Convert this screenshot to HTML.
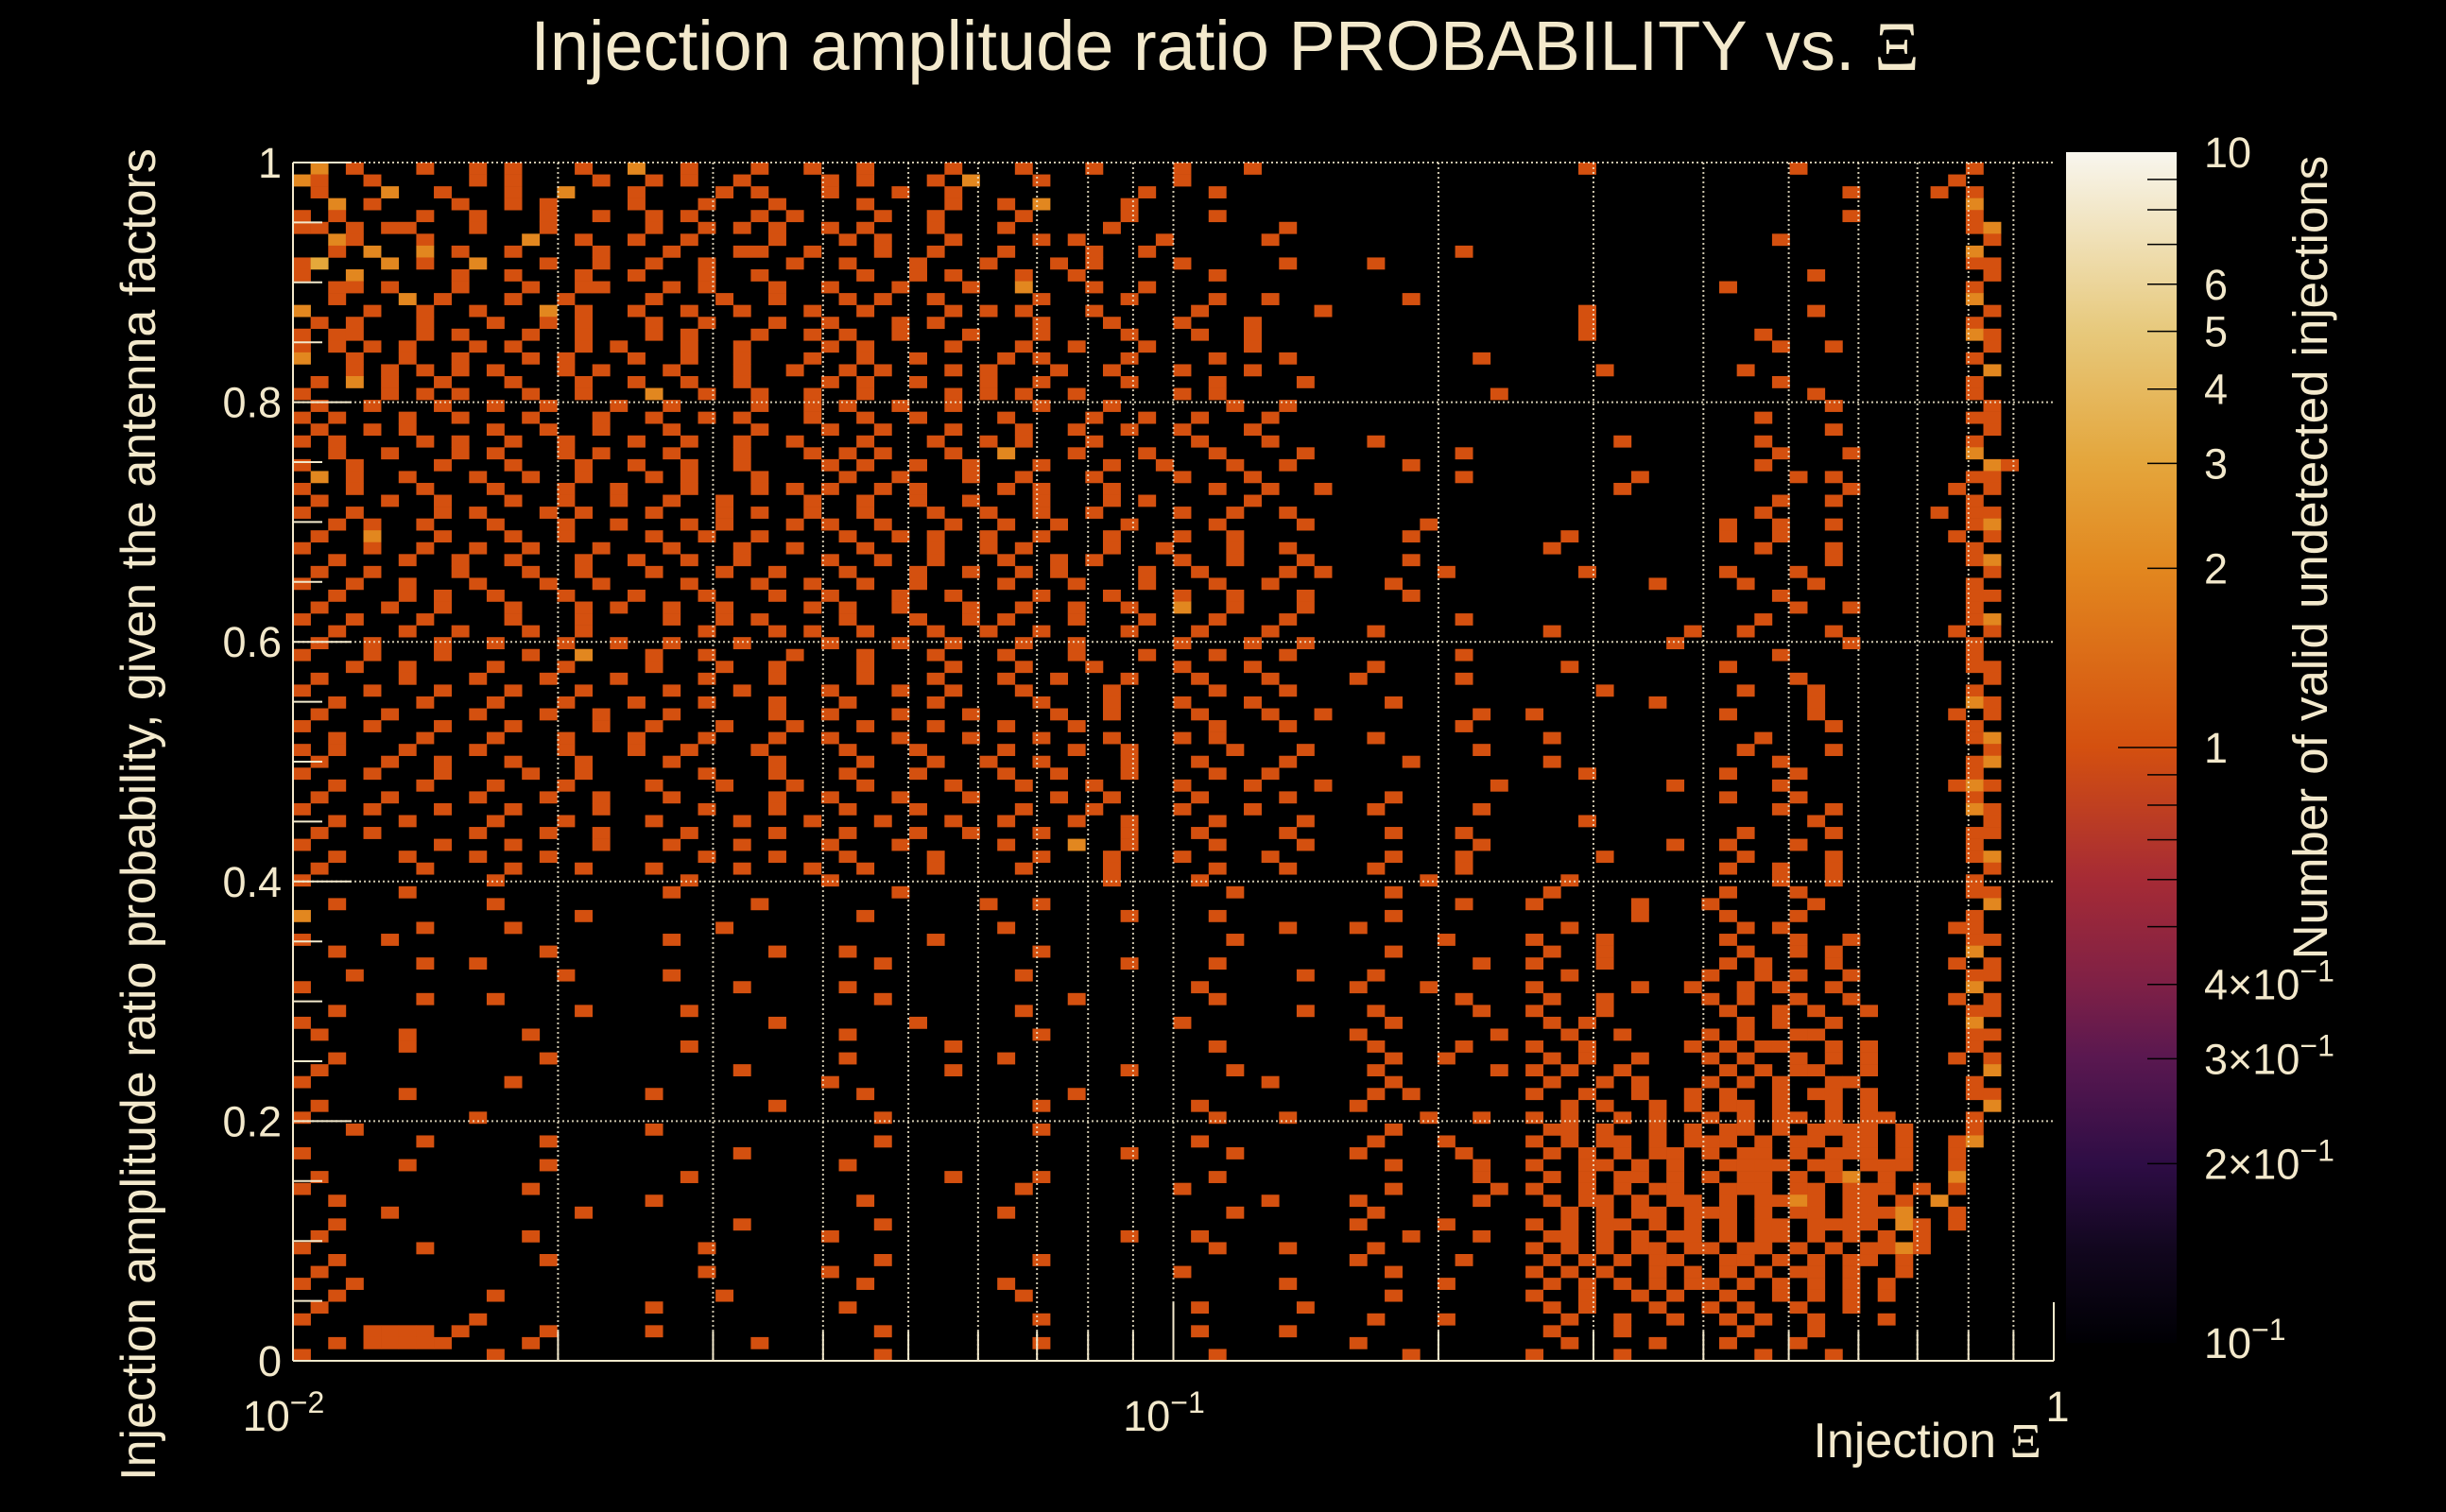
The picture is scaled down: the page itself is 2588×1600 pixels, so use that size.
<!DOCTYPE html>
<html><head><meta charset="utf-8"><style>
html,body{margin:0;padding:0;background:#000;}
svg{display:block;}
text{font-family:"Liberation Sans",sans-serif;fill:#f3e9cc;}
</style></head><body>
<svg id="chart" width="2588" height="1600" viewBox="0 0 2588 1600" xmlns="http://www.w3.org/2000/svg">
<defs>
<linearGradient id="cmap" x1="0" y1="1" x2="0" y2="0">
<stop offset="0" stop-color="#000004"/>
<stop offset="0.08" stop-color="#12071f"/>
<stop offset="0.15" stop-color="#2e0d45"/>
<stop offset="0.24" stop-color="#5a1850"/>
<stop offset="0.30" stop-color="#7e2046"/>
<stop offset="0.39" stop-color="#a62b35"/>
<stop offset="0.50" stop-color="#d4500f"/>
<stop offset="0.65" stop-color="#e2871f"/>
<stop offset="0.74" stop-color="#e4a63c"/>
<stop offset="0.85" stop-color="#e7c97c"/>
<stop offset="1" stop-color="#f8f6ee"/>
</linearGradient>
</defs>
<rect x="0" y="0" width="2588" height="1600" fill="#000"/>
<g id="cells"></g>
<g id="grid"></g>
<g id="axes"></g>
<text x="1296" y="74" font-size="74" text-anchor="middle">Injection amplitude ratio PROBABILITY vs.  <tspan font-family="Liberation Serif, serif">Ξ</tspan></text>
<text x="2160" y="1542" font-size="52" text-anchor="end">Injection <tspan font-family="Liberation Serif, serif">Ξ</tspan></text>
<text transform="translate(164,862) rotate(-90)" font-size="52" text-anchor="middle">Injection amplitude ratio probability, given the antenna factors</text>
<rect x="2186" y="161" width="117" height="1260" fill="url(#cmap)"/>
<g id="cbar"></g>
<text transform="translate(2462,590) rotate(-90)" font-size="51" text-anchor="middle">Number of valid undetected injections</text>
</svg>
<script>
const gridRows = [
".2.1...1.. 1.1...1..2 ..1...1..1 ..1....1.. .1...1.... 1...1..... .......... ...1...... .....1.... .....1....",
"21..1..... 1.1....1.. 1.1..1.... 1.1...1.2. ..1....... 1......... .......... .......... .......... ....1.....",
".1...2..1. ..1..2...1 ....1.1... 1...1..1.. ........1. ..1....... .......... .......... ........1. ...1.1....",
"..2.1....1 ..1.1....1 ...1...1.. ..1....1.. 1.2....1.. .......... .......... .......... .......... .....2....",
"1.1....1.. 1...1..1.. 1.1...1.1. ...1..1... .1.....1.. ..1....... .......... .......... ........1. .....1....",
"11.1.11... 1...1..... 1..1.1.1.. 1.1...1... 1.....1... ......1... .......... .......... .......... .....12...",
"..21...1.. ...2..1..1 ..1....1.. .1.1...1.. ..1.1....1 .....1.... .......... .......... ....1..... ......1...",
"..1.2..2.1 ..1....1.. .1...11..1 ...1..1... 1....1..1. .......... ......1... .......... .......... .....2....",
"13...2.1.. 2...1..1.. 1..1....1. .1...1...1 ...1.1.... 1.....1... .1........ .......... .......... .....11...",
"1..2.....1 ..1...1..1 ...1..1... ..1..1.1.. .1..1..... ..1....... .......... .......... ......1... ......1...",
"..11.1...1 ...1..11.. .1.1...1.. 1...1...1. .2...1..1. .......... .......... .......... .1........ .....1....",
"..1...2.1. ..1..1.... 1...1..1.. .1.1..1... ..1....1.. ..1..1.... ...1...... .......... .......... .....2....",
"2...1..1.. 1...2.1..1 ..1..1...1 ..1....1.1 .1...1.... .1......1. .......... ...1...... ......1... ......1...",
".1.1...1.. .1..1.1... 1..1...1.. 1...1.1... ..1...1... 1...1..... .......... ...1...... .......... .....1....",
"1.11...1.1 ...1..1... 1.1...1..1 .1..1...1. ..1....1.. .1..1..... .......... ...1...... ...1...... .....21...",
"1.1.1.1... 1.1...1.1. ..1..1.... 1.1....1.. .1..1...1. ....1..... .......... .......... ....1..1.. ......1...",
"2..1..1..1 ...1.1...1 ..1..1...1 ..1..1.... 1.1....1.. ..1...1... .......1.. .......... .......... .....1....",
"...1.1.1.1 .1...1.1.. .1...1..1. .1.1...1.1 ...1..1... 1...1..... .......... ....1..... ..1....... ......2...",
".1.2.1..1. ..1...1..1 ..1..1.... 1.1..1...1 ..1....1.. ..1....1.. .......... .......... ....1..... .....1....",
"1....1.1.1 ...1..1... 2..1..1..1 ..1....1.1 .1..1..... 1.1....... ........1. .......... ......1... .....1....",
".1..1...1. .1..1...1. .1....1..1 .1..1..1.. ..1...1... ...1..1... .......... .......... .......1.. ......1...",
"1.1...1..1 ...1...1.. 1..1.1...1 ..1..1.... 1....1..1. .1...1.... .......... .......... ...1...... .....11...",
".1..1.1... .1..1..1.. .1....1... 1..1...1.. .1..1..1.. 1...1..... .......... .......... .......1.. ......1...",
"1.1....1.1 ..1..1...1 ..1..1..1. ..1...1..1 .1...1.... .1...1.... .1........ .....1.... ...1...... .....1....",
"..1..1...1 .1...1.1.. .1...1...1 .1.1...1.. 2...1...1. ..1....1.. ......1... .......... ....1...1. .....2....",
"1..1....1. ..1...1..1 ..1..1.... 1.1..1..1. ..1...1..1 ...1..1... ...1...... .......... ...1...... ......21...",
".2.1..1... 1..1..1... 1.1...1... .1..1...1. .1...1.... 1...1..... ......1... ......1... .....1.1.. .....11...",
"1..1...1.. .1...1..1. ..1...1.1. 1..1.1.... 1.1...1... ..1..1..1. .......... .....1.... ........1. ....1.1...",
".1...1..1. ..1..1..1. .1..1....1 ..1..1..1. ..1...1.1. ....1..... .......... .......... ....1..1.. .....1....",
"1..1....1. 1...1.1... 1...1.1..1 ..1...1..1 ..1..1.... 1..1..1... .......... .......... ...1...... ...1.11...",
"..1.1..1.. .1...1..1. ..1.1...1. 1..1...1.. 1..1...1.. ..1....1.. ....1..... .......... .1..1..1.. .....12...",
".1..2...1. ..1..1.... 1..1..1... .1..1.1..1 ..1...1... 1..1...... ...1...... ..1....... .1..1..... ....1.1...",
"1...1..1.. 1..1...1.. .1...1..1. ..1...1..1 .1....1..1 ...1..1... .......... .1........ ...1...1.. .....1....",
"..1...1..1 ..1...1..1 ..1..1.... 1..1..1... 1..1.1.... 1..1...1.. ...1...... .......... .......1.. .....12...",
".1..1....1 ...1..1... 1...1..1.. .1...1..1. .1.1....1. .1....1.1. .....1.... ...1...... .1...1.... ......1...",
"1..1..1... 1...1..1.. ..1...1..1 ..1..1.... 1...1...1. ..1..1.... ..1....... .......1.. ..1...1... .....1....",
"..1...1.1. .1...1...1 ...1...1.. 1...1..1.. ..1...1... 1..1...1.. ...1...... .......... ....1..... .....11...",
".1...1..1. ..1...1.1. .1..1....1 .1..1...1. .1..1..1.. 2..1...1.. .......... .......... .....1..1. .....1....",
"1..1...1.. ..1...1... .1..1.1... .1...1..1. 1...1...1. ..1...1... ......1... .......... ...1...... .....12...",
"..1...1..1 ...1..1... ...1...1.1 ..1...1..1 ..1....1.. .1...1.... .1........ .1.......1 ..1....1.. ....1.1...",
".1..1...1. .1...1..1. .1...1.... 1...1..1.. .1..1..... 1...1..1.. .......... ........1. ........1. .....1....",
"1...1...1. ...1..2... 1..1....1. ..1...1... 1...1...1. ..1...1... ......1... .......... ....1..... .....1....",
"...1..1... .1...1.... 1...1..1.. ..1....1.. .1...1.... 1...1..... .1........ ..1....... .1........ .....11...",
".1....1... 1...1...1. ...1...1.. ..1...1... 1..1...1.. .1...1.... 1.....1... .......... .....1.... ......1...",
"1...1...1. ..1...1... .1...1.... 1...1..1.. .1....1... ..1...1... .......... ....1..... ..1...1... .....1....",
"..1....1.. .1...1...1 ...1...1.. .1....1... ..1...1... 1...1..... ..1....... .......1.. ......1... .....21...",
".1...1.... 1...1..1.. .1.....1.. 1...1...1. ...1..1... .1...1..1. .......1.. 1......... .1....1... ....1.1...",
"1...1...1. ..1....1.. 1...1...1. ..1...1... 1...1..... ..1...1... ......1... .......... .......1.. .....1....",
"..1....1.. .1...1...1 ...1...1.. 1...1...1. ..1...1... 1.1....... .1........ .1........ ...1...... .....12...",
"1.1...1... 1....1...1 ..1...1... .1...1.... 1...1..1.. ...1...1.. .......1.. .......... ..1....1.. ......1...",
".1...1..1. ..1...1... .1.....1.. ..1...1..1 ..1....1.. .1....1... ...1...... .1........ ....1..... .....12...",
"1...1...1. ...1..1... ...1...1.. .1...1.... 1..1...1.. ..1..1.... .......... ...1...... .1...1.... .....1....",
"..1....1.. .1...1.... 1...1...1. ..1....1.. .1...1.... 1...1...1. ........1. ........1. ....1..... ....121...",
".1...1.... 1...1..1.. .1.....1.. 1...1...1. ...1..1... .1....1... ..1....... .......... .1...1.... .....1....",
"1...1...1. ..1....1.. ...1...1.. .1...1.... .1...1.... 1...1..... .1.....1.. .......... ....1..1.. .....21...",
"..1...1... .1...1.... 1....1...1 ...1...1.. 1...1..1.. ..1....1.. .......... ...1...... ......1... ......1...",
".1..1..... 1...1..1.. ..1....1.. .1...1..1. ..1....1.. .1....1... ..1...1... .......... ..1....1.. .....11...",
"1.......1. ..1....1.. .1...1.... 1...1..... 1...2..1.. ..1....1.. .......1.. ........1. .1...1.... .....1....",
"..1...1... 1...1..... ...1...1.. .1....1... ..1...1... 1....1.... ..1...1... ....1..... ..1....1.. .....12...",
".1.....1.. ..1...1... 1....1...1 ..1...1... .1....1... ..1...1... .1....1... .......... .1..1..1.. ......1...",
"1......... .1........ ..1....... 1......... ......1... .1........ ....1..... ..1....... ....1..1.. .....1....",
"......1... .......... .1........ ....1..... .......... ...1...... ..1....... .1........ .1...1.... .....11...",
"..1....... .1........ ......1... .........1 ..1....... .......... ......1... 1.....1... 1.....1... ......2...",
"2......... ......1... .......... ..1....... .......1.. ..1....... ..1....... ......1... .1...1.... .....1....",
".......1.. ..1....... ....1..... .......... 1......... ......1... 1......... ..1....... ..1.1..... ....11....",
"1....1.... .......... .1........ ......1... .......... ...1...... .....1.... 1...1..... .1...1..1. .....11...",
"..1....... ....1..... .......1.. .1........ ..1....... .......... ..1....... .1..1..... ..1..1.1.. .....2....",
".......1.. 1......... .......... ...1...... .......1.. ..1....... .......1.. 1...1..... .1.1...1.. ....1.1...",
"...1...... .....1.... .1........ .......... .1........ .......1.. .1........ ..1....... 1..1.1..1. .....11...",
"1......... .......... .....1.... .1........ .......... .1........ 1...1..... 1.....1..1 ..1.1..1.. .....2....",
".......1.. .1........ .......... ...1...... ....1..... ..1....... ......1... .1..1..... 1.1..1..1. ....1.1...",
"..1....... ......1... ..1....... .......... .1........ .......1.. .1.....1.. 1...1..... .1..1.1..1 .....11...",
"1......... .......... .......1.. .....1.... .......... 1......... ..1....... .1.1...... ..1.1..1.. .....2....",
".1....1... ...1...... .......... .1........ ..1....... .......... 1.......1. ..1..1.... 1.1..11... .....11...",
"......1... .......... ..1....... .......1.. .......... ..1....... .1....1... 1..1.....1 .1.11..1.1 .....1....",
"..1....... ....1..... .......... .1........ 1......... .......... ..1..1.... .1.1..1... 1.1..1.1.1 ....1.1...",
".1........ .......... .....1.... .......1.. .......1.. ...1...... .1......1. 1.1..1.... .1.1.11..1 ......2...",
"1......... ..1....... .......... 1......... .......... .....1.... ..1....... .1..1.1... 1.1.1..11. .....1....",
"......1... .......... 1......... ..1....... ....1..... .......... .1.1...... 1..1..1..1 .1..1.11.1 .....11...",
".1........ .......... .......1.. .......... ..1....... .1........ 1......... ..1.1..1.1 .11.1..1.1 ......2...",
"1......... 1......... .......... ...1...... .......... ..1...1... ....1..1.. 1.1..1.1.. 1.1.11.1.1 1....1....",
"...1...... .......... 1......... .......... ..1....... .......... ..1....... .11.1..1.1 .11.1.1111 .1...1....",
".......1.. ....1..... .......... ...1...... .......... .1........ .1...1.... 1.1.11.1.1 11.1.11.11 .1..12....",
"1......... .......... .....1.... .......... .......1.. ...1...... 1.....1... .1.1.1.11. 1.11.1.111 .1..1.....",
"......1... ....1..... .......... .1........ .......... .......... ..1....1.. 1..11.1.1. .1111.11.1 11..1.....",
".1........ .......... ..1....... .......1.. ..1....... ..1....... .......1.. .1.1.11.1. 1.11.1.12. 1...2.....",
"1......... ...1...... .......... .......... .1........ 1......... ..1.....1. 1..1.1.11. .111.11.11 1.1.1.....",
"..1....... .......... 1......... ..1....... .......... .....1.... 1......1.. .1.11.1.11 .1.1121.11 .1.2......",
".....1.... ......1... .......... .......... 1......... ...1...... .1........ ..1.1.11.1 11.1.11.11 12..1.....",
"..1....... .......... .....1.... ...1...... .......... .......... 1....1.... 1.1.11.1.1 .1.11.1111 .21.1.....",
".1........ ...1...... .......... 1......... .......1.. .1........ ...1...1.. .11.1.1.11 .1.11.1.1. 1.1.......",
"1......1.. .......... ...1...... .......... .......... ..1...1... .1........ 1.1.1.11.1 1.11.1.1.1 121.......",
"..1....... ....1..... .......... ...1...... ..1....... .......... 1.....1... .1.1.1.11. .11.1.1.11 .1........",
".1........ .......... ...1...... 1......... .......... 1......... ..1....... 1.1.1..1.1 .1.1.11.1. .1........",
"1..1...... .......... .......... ..1....... 1......... ......1... .....1.... .1.1.1.1.1 1.1.1.1.1. 1.........",
"..1....... .1........ ....1..... .......... .1........ .......... ..1....... 1..1..1.1. .1..1.1.1. 1.........",
".1........ .......... 1......... .1........ .......... .1.....1.. .......... .1.1...1.. 1.1..1..1. ..........",
"1......... 1......... .......... .......... ..1....... .......... .1...1.... ..1..1..1. .1.1..1... 1.........",
"....1111.1 ....1..... 1......... ...1...... .......... .1....1... .......... .1...1.... ..1...1... ..........",
"..1.11111. ...1...... ......1... .......... ..1....... .......... 1......... ..1....1.. .1...1.... ..........",
"1......... .1........ .......... ...1...... .......... ..1....... ...1...... 1....1.... ...1...1.. ..........",
];
const xMin = -2, xMax = 0; // log10 range of Ξ
const yMin = 0, yMax = 1;
const xTickValues = [0.01, 0.1, 1];
const xTickLabels = ["10", "10", "1"];
const xTickExps = ["−2", "−1", ""];
const yTickValues = [0, 0.2, 0.4, 0.6, 0.8, 1];
const yTickLabels = ["0", "0.2", "0.4", "0.6", "0.8", "1"];
const cbarTickValues = [0.1, 0.2, 0.3, 0.4, 1, 2, 3, 4, 5, 6, 10];
const cbarTickLabels = ["10", "2×10", "3×10", "4×10", "1", "2", "3", "4", "5", "6", "10"];
const cbarTickExps = ["−1", "−1", "−1", "−1", "", "", "", "", "", "", ""];

const NS = "http://www.w3.org/2000/svg";
const PL = 310, PR = 2173, PT = 172, PB = 1440;
const CB = {x: 2186, w: 117, top: 161, bot: 1421};
function xScale(v){ return PL + (Math.log10(v) - xMin) / (xMax - xMin) * (PR - PL); }
function yScale(v){ return PB - (v - yMin) / (yMax - yMin) * (PB - PT); }
function cScale(v){ return CB.bot - (Math.log10(v) + 1) / 2 * (CB.bot - CB.top); }
function color(n){ return n >= 4 ? "#e8c06a" : n === 3 ? "#e5a83a" : n === 2 ? "#e2871f" : "#d4500f"; }
function mk(tag, attrs, parent){ const e = document.createElementNS(NS, tag); for (const k in attrs) e.setAttribute(k, attrs[k]); parent.appendChild(e); return e; }

const cells = document.getElementById("cells");
const nRows = gridRows.length, nCols = 100;
for (let r = 0; r < nRows; r++) {
  const row = gridRows[r].replace(/ /g, "");
  for (let c = 0; c < nCols; c++) {
    const ch = row[c] || ".";
    if (ch === ".") continue;
    const n = parseInt(ch, 10);
    const x0 = xScale(Math.pow(10, xMin + c * (xMax - xMin) / nCols));
    const x1 = xScale(Math.pow(10, xMin + (c + 1) * (xMax - xMin) / nCols));
    const y0 = yScale(yMax - r * (yMax - yMin) / nRows);
    const y1 = yScale(yMax - (r + 1) * (yMax - yMin) / nRows);
    const rc = mk("rect", {x: x0, y: y0, width: x1 - x0 + 0.3, height: y1 - y0 + 0.3, fill: color(n)}, cells);
    
    
  }
}

const grid = document.getElementById("grid");
for (let d = -2; d < 0; d++) {
  for (let m = 1; m <= 9; m++) {
    const v = m * Math.pow(10, d);
    if (v <= 0.01) continue;
    const x = xScale(v);
    const gl = mk("line", {x1: x, x2: x, y1: PT, y2: PB, stroke: "#f3e9cc", "stroke-width": 2, "stroke-dasharray": "2 3", opacity: 0.85}, grid);
    
    
  }
}
yTickValues.forEach(v => {
  if (v === 0) return;
  const y = yScale(v);
  const gl = mk("line", {x1: PL, x2: PR, y1: y, y2: y, stroke: "#f3e9cc", "stroke-width": 2, "stroke-dasharray": "2 3", opacity: 0.85}, grid);
  
  
});

const axes = document.getElementById("axes");
mk("line", {x1: PL, x2: PL, y1: PT, y2: PB, stroke: "#f3e9cc", "stroke-width": 2}, axes);
mk("line", {x1: PL, x2: PR, y1: PB, y2: PB, stroke: "#f3e9cc", "stroke-width": 2}, axes);
for (let i = 0; i <= 20; i++) {
  const v = i * 0.05, y = yScale(v);
  const len = (i % 4 === 0) ? 62 : 31;
  mk("line", {x1: PL, x2: PL + len, y1: y, y2: y, stroke: "#f3e9cc", "stroke-width": 2}, axes);
}
yTickValues.forEach((v, i) => {
  const t = mk("text", {x: PL - 12, y: yScale(v) + 16, "font-size": 45, "text-anchor": "end"}, axes);
  t.textContent = yTickLabels[i];
  
  
});
for (let d = -2; d < 0; d++) for (let m = 1; m <= 9; m++) {
  const x = xScale(m * Math.pow(10, d));
  mk("line", {x1: x, x2: x, y1: PB, y2: PB - (m === 1 ? 62 : 31), stroke: "#f3e9cc", "stroke-width": 2}, axes);
}
mk("line", {x1: PR, x2: PR, y1: PB, y2: PB - 62, stroke: "#f3e9cc", "stroke-width": 2}, axes);
xTickValues.forEach((v, i) => {
  const x = xScale(v);
  const t = mk("text", {x: x - (xTickExps[i] ? 10 : -4), y: xTickExps[i] ? 1514 : 1504, "font-size": 45, "text-anchor": "middle"}, axes);
  t.textContent = xTickLabels[i];
  if (xTickExps[i]) { const s = mk("tspan", {dy: -19, "font-size": 32}, t); s.textContent = xTickExps[i]; }
  
  
});

const cbar = document.getElementById("cbar");
cbarTickValues.forEach((v, i) => {
  const y = cScale(v);
  if (v !== 0.1 && v !== 10) mk("line", {x1: CB.x + CB.w - (v === 1 ? 62 : 31), x2: CB.x + CB.w, y1: y, y2: y, stroke: "#000", "stroke-width": 1.5}, cbar);
  const t = mk("text", {x: 2332, y: y + 16, "font-size": 45}, cbar);
  t.textContent = cbarTickLabels[i];
  if (cbarTickExps[i]) { const s = mk("tspan", {dy: -19, "font-size": 32}, t); s.textContent = cbarTickExps[i]; }
  
  
});
[7, 8, 9, 0.5, 0.6, 0.7, 0.8, 0.9].forEach(v => {
  const y = cScale(v);
  mk("line", {x1: CB.x + CB.w - 31, x2: CB.x + CB.w, y1: y, y2: y, stroke: "#000", "stroke-width": 1.5}, cbar);
});
</script>
</body></html>
